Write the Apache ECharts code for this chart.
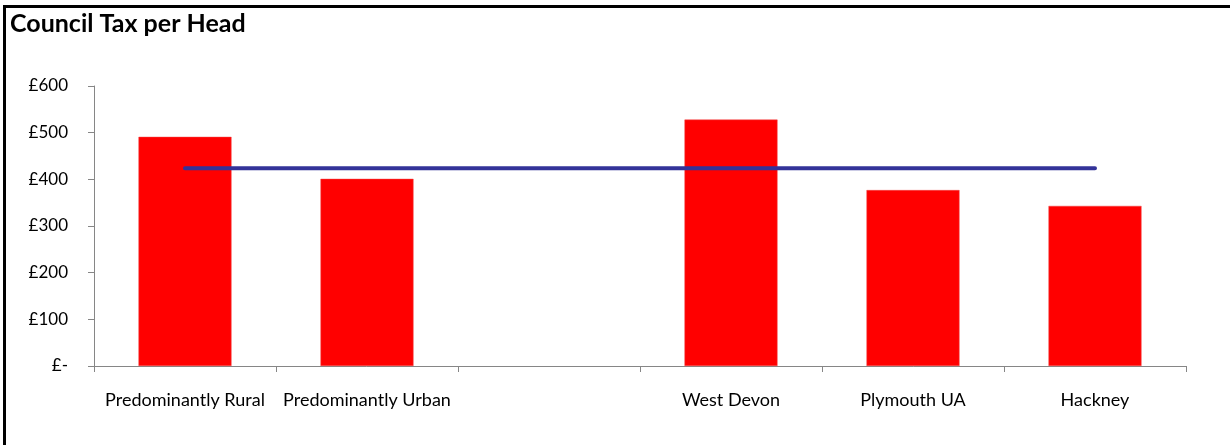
<!DOCTYPE html>
<html>
<head>
<meta charset="utf-8">
<script src="https://cdn.jsdelivr.net/npm/echarts@6/dist/echarts.min.js"></script>
<style>
html,body{margin:0;padding:0;background:#fff;}
#c{width:1230px;height:445px;}
</style>
</head>
<body>
<div id="c"></div>
<script>
var categories = ['Predominantly Rural', 'Predominantly Urban', '', 'West Devon', 'Plymouth UA', 'Hackney'];
var taxPerHead = [491, 401, null, 528, 377, 343];
var averageLine = [424, 424, 424, 424, 424, 424];
var yTicks = [0, 100, 200, 300, 400, 500, 600];

var chart = echarts.init(document.getElementById('c'), null, {renderer: 'canvas'});
var font = 'Lato, "Open Sans", sans-serif';
chart.setOption({
  animation: false,
  backgroundColor: '#fff',
  title: {
    text: 'Council Tax per Head',
    left: 5, top: 6,
    textStyle: {fontFamily: font, fontWeight: 'bold', fontSize: 25, color: '#000'}
  },
  graphic: [
    {type: 'line', shape: {x1: 4.5, y1: 6.5, x2: 1230, y2: 6.5}, style: {stroke: '#000', lineWidth: 3}},
    {type: 'line', shape: {x1: 4.5, y1: 5, x2: 4.5, y2: 445}, style: {stroke: '#000', lineWidth: 3}}
  ],
  grid: {left: 94, right: 44, top: 86, bottom: 79, containLabel: false},
  xAxis: {
    type: 'category',
    data: categories,
    boundaryGap: true,
    axisLine: {lineStyle: {color: '#868686', width: 1}},
    axisTick: {show: true, alignWithLabel: false, length: 6, lineStyle: {color: '#868686'}},
    axisLabel: {fontFamily: font, fontSize: 18, color: '#000', margin: 25, interval: 0}
  },
  yAxis: {
    type: 'value',
    min: yTicks[0], max: yTicks[yTicks.length - 1], interval: 100,
    axisLine: {show: true, lineStyle: {color: '#868686', width: 1}},
    axisTick: {show: true, length: 6, lineStyle: {color: '#868686'}},
    splitLine: {show: false},
    axisLabel: {
      fontFamily: font, fontSize: 17, color: '#000', margin: 26,
      formatter: function (v) { return v === 0 ? '£-' : '£' + v; }
    }
  },
  series: [
    {
      type: 'bar',
      data: taxPerHead,
      barWidth: 93,
      itemStyle: {color: '#FF0000', borderColor: '#F04040', borderWidth: 0.5}
    },
    {
      type: 'line',
      data: averageLine,
      symbol: 'none',
      lineStyle: {color: '#333399', width: 4, cap: 'round'},
      z: 3
    }
  ]
});
</script>
</body>
</html>
